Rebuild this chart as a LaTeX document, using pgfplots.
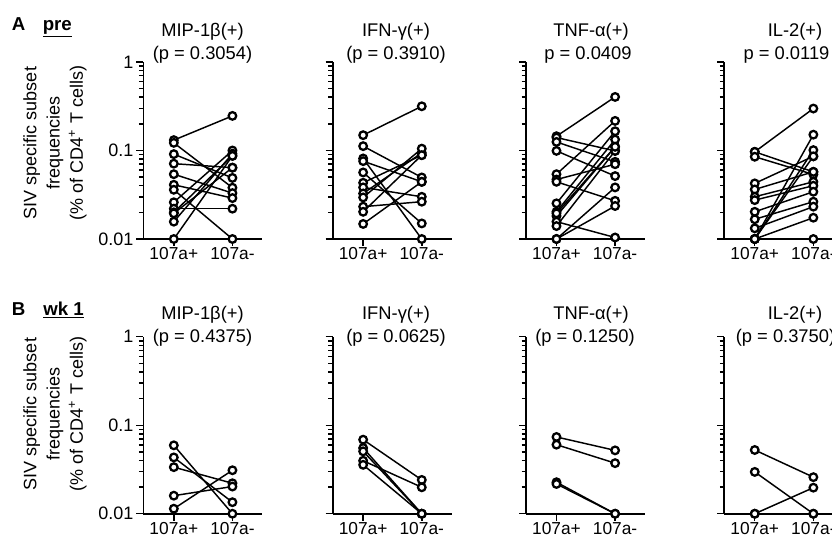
\documentclass[border=0pt]{standalone}
\usepackage{fontspec}
\setmainfont{Liberation Sans}
\usepackage{pgfplots}
\pgfplotsset{compat=1.18}

\newcommand\PL[2]{\addplot[black, line width=1.1pt, mark=none] coordinates {(0,#1) (1,#2)};}
\newcommand\PM[2]{\addplot[only marks, mark=*, mark size=2.85pt, mark options={draw=black, fill=white, line width=1.7pt}] coordinates {(0,#1) (1,#2)};}
\newcommand\drawpairs[1]{\let\pp\PL #1\let\pp\PM #1}

% pairs (107a+ value, 107a- value)
\newcommand\dataAa{\pp{0.131}{0.246}\pp{0.122}{0.038}\pp{0.091}{0.049}\pp{0.071}{0.064}\pp{0.054}{0.033}\pp{0.041}{0.029}\pp{0.036}{0.010}\pp{0.026}{0.100}\pp{0.022}{0.022}\pp{0.020}{0.087}\pp{0.0195}{0.064}\pp{0.0157}{0.092}\pp{0.010}{0.087}}
\newcommand\dataAb{\pp{0.149}{0.316}\pp{0.112}{0.0496}\pp{0.0813}{0.010}\pp{0.0758}{0.0443}\pp{0.0565}{0.015}\pp{0.0432}{0.0886}\pp{0.0383}{0.030}\pp{0.0327}{0.094}\pp{0.0295}{0.105}\pp{0.0232}{0.0264}\pp{0.0203}{0.0886}\pp{0.0148}{0.0443}}
\newcommand\dataAc{\pp{0.145}{0.403}\pp{0.140}{0.099}\pp{0.125}{0.0745}\pp{0.099}{0.0514}\pp{0.054}{0.216}\pp{0.047}{0.070}\pp{0.0443}{0.027}\pp{0.0253}{0.165}\pp{0.0203}{0.133}\pp{0.0182}{0.110}\pp{0.0157}{0.0104}\pp{0.014}{0.099}\pp{0.010}{0.0383}\pp{0.010}{0.0236}\pp{0.0195}{0.110}}
\newcommand\dataAd{\pp{0.0966}{0.298}\pp{0.0966}{0.0574}\pp{0.085}{0.0536}\pp{0.0425}{0.086}\pp{0.0363}{0.0574}\pp{0.030}{0.0443}\pp{0.0275}{0.040}\pp{0.0203}{0.0342}\pp{0.0167}{0.0264}\pp{0.0132}{0.0232}\pp{0.010}{0.151}\pp{0.010}{0.101}\pp{0.010}{0.086}\pp{0.010}{0.0174}\pp{0.010}{0.010}}
\newcommand\dataBa{\pp{0.0593}{0.010}\pp{0.0433}{0.0135}\pp{0.0336}{0.0221}\pp{0.016}{0.0203}\pp{0.0114}{0.031}}
\newcommand\dataBb{\pp{0.0687}{0.0241}\pp{0.0553}{0.010}\pp{0.0507}{0.010}\pp{0.0397}{0.0199}\pp{0.0357}{0.010}}
\newcommand\dataBc{\pp{0.0737}{0.052}\pp{0.0603}{0.0373}\pp{0.0227}{0.010}\pp{0.0217}{0.010}}
\newcommand\dataBd{\pp{0.0525}{0.0259}\pp{0.0297}{0.010}\pp{0.010}{0.0197}\pp{0.010}{0.010}}

\pgfplotsset{
  mypanel/.style={
    scale only axis, width=89.25pt, height=132.75pt,
    anchor=south west,
    ymin=0.01, ymax=1, xmin=-0.52, xmax=1.51,
    axis lines=left, axis line style={-, line width=1.25pt},
    xtick={0,1}, xticklabels={107a+,107a-},
    ytick={0.01,0.1,1}, yticklabels={,,},
    minor ytick={0.02,0.03,0.04,0.05,0.06,0.07,0.08,0.09,0.2,0.3,0.4,0.5,0.6,0.7,0.8,0.9},
    tick align=outside, major tick length=5.25pt, minor tick length=3.3pt,
    every tick/.style={black, line width=1.1pt},
    xtick pos=bottom, ytick pos=left,
    clip=false,
    xticklabel style={font=\fontsize{13}{15}\selectfont, inner sep=1pt},
    yticklabel style={font=\fontsize{13.5}{15}\selectfont, inner sep=2pt},
  },
  myfirst/.style={yticklabels={0.01,0.1,1}},
}

\begin{document}
\begin{tikzpicture}
\path[use as bounding box] (0,0) rectangle (624pt,-406.5pt);
\clip (0,0) rectangle (624pt,-406.5pt);

% Row A
\begin{semilogyaxis}[mypanel, myfirst, at={(107.5pt,-179.25pt)}]
\drawpairs{\dataAa}
\end{semilogyaxis}
\begin{semilogyaxis}[mypanel, at={(249.5pt,-179.25pt)}]
\drawpairs{\dataAb}
\end{semilogyaxis}
\begin{semilogyaxis}[mypanel, at={(394.5pt,-179.25pt)}]
\drawpairs{\dataAc}
\end{semilogyaxis}
\begin{semilogyaxis}[mypanel, at={(543.2pt,-179.25pt)}]
\drawpairs{\dataAd}
\end{semilogyaxis}

% Row B
\begin{semilogyaxis}[mypanel, myfirst, at={(107.5pt,-385.3pt)}]
\drawpairs{\dataBa}
\end{semilogyaxis}
\begin{semilogyaxis}[mypanel, at={(249.5pt,-385.3pt)}]
\drawpairs{\dataBb}
\end{semilogyaxis}
\begin{semilogyaxis}[mypanel, at={(394.5pt,-385.3pt)}]
\drawpairs{\dataBc}
\end{semilogyaxis}
\begin{semilogyaxis}[mypanel, at={(543.2pt,-385.3pt)}]
\drawpairs{\dataBd}
\end{semilogyaxis}

\begin{scope}[x=0.75pt, y=-0.75pt, every node/.style={inner sep=0pt, font=\fontsize{13.75}{16}\selectfont}]
% panel labels
\node[anchor=base, font=\bfseries\fontsize{14}{16}\selectfont] at (18.5,31) {A};
\node[anchor=base west, font=\bfseries\fontsize{14}{16}\selectfont] at (42.5,31) {\underline{pre}};
\node[anchor=base, font=\bfseries\fontsize{14}{16}\selectfont] at (18.5,315) {B};
\node[anchor=base west, font=\bfseries\fontsize{14}{16}\selectfont] at (43,315) {\underline{wk 1}};
% y labels
\node[rotate=90, align=center, font=\fontsize{13.5}{17.5}\selectfont] at (55,143) {SIV specific subset\\frequencies\\(\% of CD4\textsuperscript{+} T cells)};
\node[rotate=90, align=center, font=\fontsize{13.5}{17.5}\selectfont] at (55,414) {SIV specific subset\\frequencies\\(\% of CD4\textsuperscript{+} T cells)};
% titles row A
\node[anchor=base] at (202.5,36.7) {MIP-1β(+)};
\node[anchor=base] at (202.5,59.3) {(p = 0.3054)};
\node[anchor=base] at (396,36.7) {IFN-γ(+)};
\node[anchor=base] at (396,59.3) {(p = 0.3910)};
\node[anchor=base] at (591,36.7) {TNF-α(+)};
\node[anchor=base] at (588,59.3) {p = 0.0409};
\node[anchor=base] at (795,36.7) {IL-2(+)};
\node[anchor=base] at (786.5,59.3) {p = 0.0119};
% titles row B
\node[anchor=base] at (202.5,319.3) {MIP-1β(+)};
\node[anchor=base] at (202.5,342.7) {(p = 0.4375)};
\node[anchor=base] at (396,319.3) {IFN-γ(+)};
\node[anchor=base] at (396,342.7) {(p = 0.0625)};
\node[anchor=base] at (591,319.3) {TNF-α(+)};
\node[anchor=base] at (585,342.7) {(p = 0.1250)};
\node[anchor=base] at (795,319.3) {IL-2(+)};
\node[anchor=base] at (785.5,342.7) {(p = 0.3750)};
\end{scope}
\end{tikzpicture}
\end{document}
